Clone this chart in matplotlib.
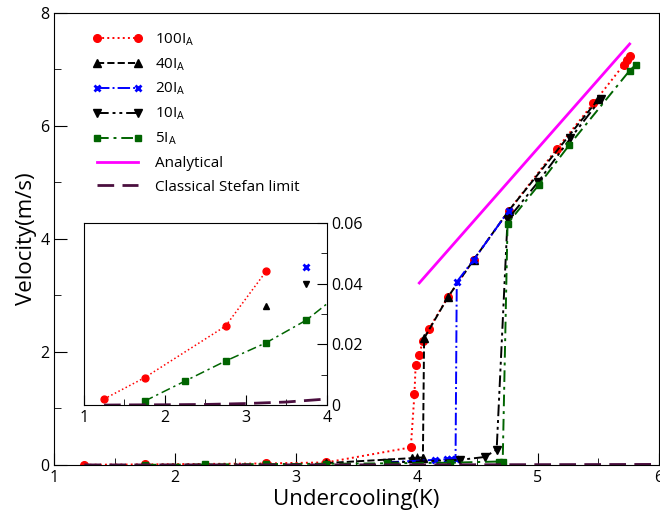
import matplotlib
matplotlib.use("Agg")
import matplotlib.pyplot as plt
from matplotlib.ticker import MultipleLocator, FuncFormatter

plt.rcParams['font.family'] = ['Open Sans', 'DejaVu Sans']
plt.rcParams['mathtext.default'] = 'regular'

# --- data ---
x100 = [1.25, 1.75, 2.75, 3.25, 3.95, 3.98, 3.99, 4.02, 4.05, 4.1, 4.26, 4.47, 4.76, 5.16, 5.46, 5.71, 5.74, 5.76]
y100 = [0.002, 0.009, 0.026, 0.044, 0.31, 1.25, 1.77, 1.95, 2.2, 2.41, 2.98, 3.63, 4.5, 5.6, 6.4, 7.08, 7.17, 7.23]

x40 = [3.25, 3.96, 4.0, 4.05, 4.06, 4.26, 4.47, 4.76, 5.5]
y40 = [0.0325, 0.12, 0.13, 0.13, 2.24, 2.98, 3.63, 4.5, 6.47]

x20 = [3.75, 4.15, 4.25, 4.28, 4.32, 4.33, 4.47, 4.76]
y20 = [0.0455, 0.09, 0.1, 0.1, 0.1, 3.24, 3.63, 4.5]

x10 = [3.75, 4.36, 4.56, 4.66, 4.75, 5.0, 5.27, 5.52]
y10 = [0.040, 0.09, 0.14, 0.27, 4.34, 5.0, 5.78, 6.47]

x5 = [1.75, 2.25, 2.75, 3.25, 3.75, 4.27, 4.68, 4.71, 4.75, 5.01, 5.26, 5.76, 5.81]
y5 = [0.0013, 0.0079, 0.0145, 0.0205, 0.028, 0.039, 0.06, 0.06, 4.27, 4.96, 5.66, 6.98, 7.08]

x_an = [4.02, 5.76]
y_an = [3.22, 7.45]

x_st = [1.25, 1.5, 2.0, 2.5, 3.0, 3.5, 4.0, 4.5, 5.0, 5.5, 6.0]
y_st = [0.0, 0.00005, 0.0001, 0.0002, 0.0005, 0.001, 0.002, 0.0032, 0.0048, 0.0068, 0.0092]

# how many leading points of each series the inset shows
n_inset = [4, 1, 1, 1, 6]

series = [
    (x100, y100, '100I$_A$', dict(color='#ff0000', ls=':', marker='o', ms=5.5)),
    (x40, y40, '40I$_A$', dict(color='black', ls='--', marker='^', ms=5.5)),
    (x20, y20, '20I$_A$', dict(color='#0000ff', ls='-.', marker='x', ms=5, mew=2)),
    (x10, y10, '10I$_A$', dict(color='black', dashes=(6, 2, 1.5, 2, 1.5, 2), marker='v', ms=5.5)),
    (x5, y5, '5I$_A$', dict(color='#006400', dashes=(6, 2.5, 1.5, 2.5), marker='s', ms=5)),
]

fig = plt.figure(figsize=(6.6, 5.16), dpi=100)
ax = fig.add_axes([0.082, 0.099, 0.916, 0.876])

for xs, ys, lab, st in series:
    ax.plot(xs, ys, lw=1.4, label=lab, **st)
ax.plot(x_an, y_an, color='#ff00ff', lw=2, label='Analytical')
ax.plot(x_st, y_st, color='#4b0f3f', lw=2, dashes=(6, 3), label='Classical Stefan limit')

ax.set_xlim(1, 6)
ax.set_ylim(0, 8)
ax.xaxis.set_major_locator(MultipleLocator(1))
ax.xaxis.set_minor_locator(MultipleLocator(0.5))
ax.yaxis.set_major_locator(MultipleLocator(2))
ax.yaxis.set_minor_locator(MultipleLocator(1))
ax.tick_params(which='both', direction='in', labelsize=11.5)
ax.tick_params(which='major', length=9)
ax.tick_params(which='minor', length=5)
ax.set_xlabel('Undercooling(K)', fontsize=16, labelpad=2)
ax.set_ylabel('Velocity(m/s)', fontsize=16, labelpad=2)

ax.legend(loc='upper left', bbox_to_anchor=(0.04, 0.99), frameon=False,
          fontsize=11, handlelength=3.3, numpoints=2, labelspacing=0.56,
          handletextpad=0.8)

# --- inset ---
ins = fig.add_axes([0.127, 0.215, 0.368, 0.353])
for (xs, ys, lab, st), n in zip(series, n_inset):
    st2 = dict(st)
    st2['ms'] = st2['ms'] * 0.9
    ins.plot(xs[:n], ys[:n], lw=1.1, **st2)
ins.plot(x_st, y_st, color='#4b0f3f', lw=2, dashes=(6, 3))
ins.set_xlim(1, 4)
ins.set_ylim(0, 0.06)
ins.xaxis.set_major_locator(MultipleLocator(1))
ins.xaxis.set_minor_locator(MultipleLocator(0.5))
ins.yaxis.set_major_locator(MultipleLocator(0.02))
ins.yaxis.set_minor_locator(MultipleLocator(0.01))
ins.yaxis.set_major_formatter(FuncFormatter(lambda v, p: '0' if abs(v) < 1e-9 else '%.2f' % v))
ins.yaxis.tick_right()
ins.tick_params(which='both', direction='in', labelsize=11.5)
ins.tick_params(which='major', length=7)
ins.tick_params(which='minor', length=4)

fig.savefig('out.png', dpi=100)
